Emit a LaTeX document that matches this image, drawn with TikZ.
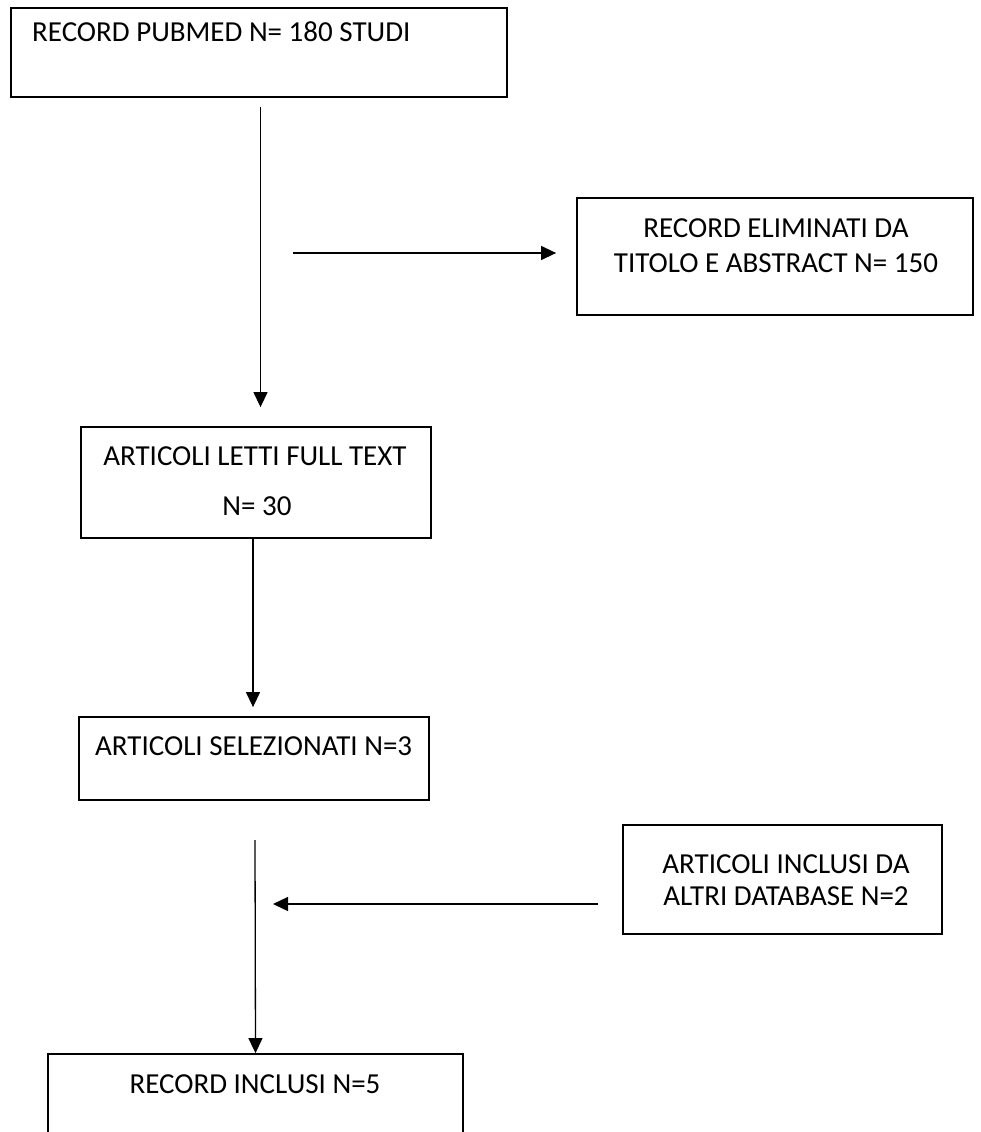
\documentclass[tikz,border=0pt]{standalone}
\usepackage{fontspec}
\setmainfont{Carlito}
\usetikzlibrary{arrows.meta}
\begin{document}
\begin{tikzpicture}[x=1pt,y=-1pt,
  box/.style={draw,line width=1.8pt,inner sep=0pt},
  txt/.style={font=\fontsize{29}{34}\selectfont,inner sep=0pt,anchor=base},
  arr/.style={line width=1.3pt,-{Triangle[width=14pt,length=15pt]}}]
\useasboundingbox (0,0) rectangle (980,1132);
\clip (0,0) rectangle (980,1132);
% boxes
\node[box,minimum width=496pt,minimum height=89pt] (b1) at (259,52.5) {};
\node[box,minimum width=396pt,minimum height=117pt] (elim) at (775,256.5) {};
\node[box,minimum width=350pt,minimum height=111pt] (b2) at (256,482.5) {};
\node[box,minimum width=350pt,minimum height=83pt] (b3) at (254,758.5) {};
\node[box,minimum width=319pt,minimum height=109pt] (altri) at (782.5,879.5) {};
\node[box,minimum width=415pt,minimum height=106pt] (b4) at (255.5,1107) {};
% texts
\node[txt,anchor=base west] (t1) at (32,42) {RECORD PUBMED N= 180 STUDI};
\node[txt] (te1) at (776,237) {RECORD ELIMINATI DA};
\node[txt] (te2) at (776,272) {TITOLO E ABSTRACT N= 150};
\node[txt] (t2a) at (255,465) {ARTICOLI LETTI FULL TEXT};
\node[txt] (t2b) at (257,515) {N= 30};
\node[txt,anchor=base west] (t3) at (95,755) {ARTICOLI SELEZIONATI N=3};
\node[txt] (ta1) at (786,873) {ARTICOLI INCLUSI DA};
\node[txt] (ta2) at (786,905) {ALTRI DATABASE N=2};
\node[txt] (t4) at (255,1093) {RECORD INCLUSI N=5};
% connectors
\coordinate (s1) at (260.5,107);
\draw[arr,shorten >=19pt] (s1) -- (s1 |- b2.north);
\coordinate (s2) at (293,253);
\draw[arr,shorten >=20pt] (s2) -- (s2 -| elim.west);
\coordinate (s3) at (253,538);
\draw[arr,shorten >=9pt] (s3) -- (s3 |- b3.north);
\coordinate (s4) at (255,840);
\draw[arr] (s4) -- (b4.north);
\coordinate (s5) at (598,904);
\coordinate (e5) at (273,904);
\draw[arr] (s5) -- (e5);
\end{tikzpicture}
\end{document}
